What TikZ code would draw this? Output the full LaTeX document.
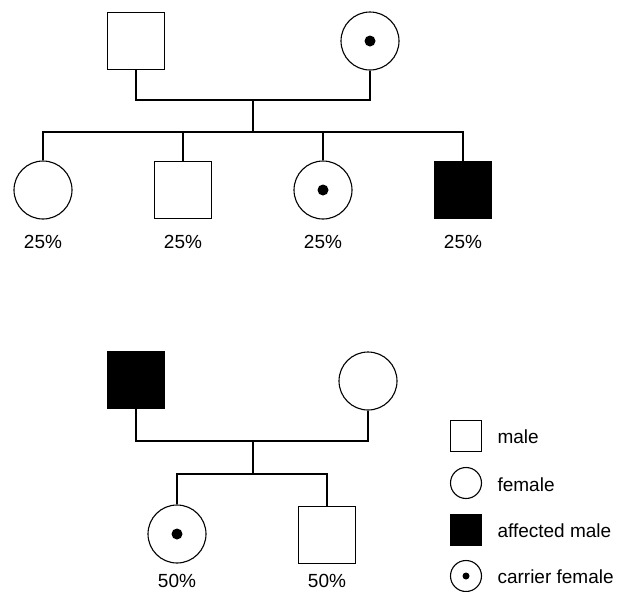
\documentclass[tikz,border=0pt]{standalone}
\usepackage{fontspec}
\setmainfont{Liberation Sans}

\tikzset{
  male/.style={draw, rectangle, line width=1.1pt, minimum size=57pt, inner sep=0pt},
  female/.style={draw, circle, line width=1.1pt, minimum size=58pt, inner sep=0pt},
  affected/.style={male, fill=black},
  carrier/.style={female, path picture={\fill (path picture bounding box.center) circle (5.5pt);}},
  smallmale/.style={male, minimum size=31pt},
  smallfemale/.style={female, minimum size=31pt},
  smallaffected/.style={smallmale, fill=black},
  smallcarrier/.style={smallfemale, path picture={\fill (path picture bounding box.center) circle (3.5pt);}},
  pct/.style={font=\fontsize{19}{22}\selectfont},
  legtext/.style={anchor=west, inner sep=0pt, font=\fontsize{19}{22}\selectfont}
}

\begin{document}
\begin{tikzpicture}[x=1pt, y=-1pt, line width=1.1pt]

  \useasboundingbox (0,0) rectangle (625,592);

  % first cross
  \node[male] (fa1) at (136, 41) {};
  \node[carrier] (mo1) at (370, 41) {};

  \coordinate (m1) at (253, 100);
  \coordinate (s1) at (253, 132);
  \draw (fa1.south) |- (m1) -| (mo1.south);
  \draw (m1) -- (s1);

  \node[female] (c1) at (43, 190) {};
  \node[male] (c2) at (183, 190) {};
  \node[carrier] (c3) at (323, 190) {};
  \node[affected] (c4) at (463, 190) {};

  \draw (c1.north) |- (s1) -| (c4.north);
  \draw (c2.north) -- (c2.north |- s1);
  \draw (c3.north) -- (c3.north |- s1);

  \node[pct] (p1) at (43, 242) {25\%};
  \node[pct] (p2) at (183, 242) {25\%};
  \node[pct] (p3) at (323, 242) {25\%};
  \node[pct] (p4) at (463, 242) {25\%};

  % second cross
  \node[affected] (fa2) at (136, 380) {};
  \node[female] (mo2) at (368, 381) {};

  \coordinate (m2) at (253, 441);
  \coordinate (s2) at (253, 474);
  \draw (fa2.south) |- (m2) -| (mo2.south);
  \draw (m2) -- (s2);

  \node[carrier] (d1) at (177, 534) {};
  \node[male] (d2) at (327, 535) {};

  \draw (d1.north) |- (s2) -| (d2.north);

  \node[pct] (q1) at (177, 581) {50\%};
  \node[pct] (q2) at (327, 581) {50\%};

  % legend
  \node[smallmale] (k1) at (466, 436) {};
  \node[smallfemale] (k2) at (466, 483) {};
  \node[smallaffected] (k3) at (466, 530) {};
  \node[smallcarrier] (k4) at (466, 576) {};

  \node[legtext] (t1) at (497, 437) {male};
  \node[legtext] (t2) at (497, 485) {female};
  \node[legtext] (t3) at (497, 531) {affected male};
  \node[legtext] (t4) at (497, 577) {carrier female};

\end{tikzpicture}
\end{document}
